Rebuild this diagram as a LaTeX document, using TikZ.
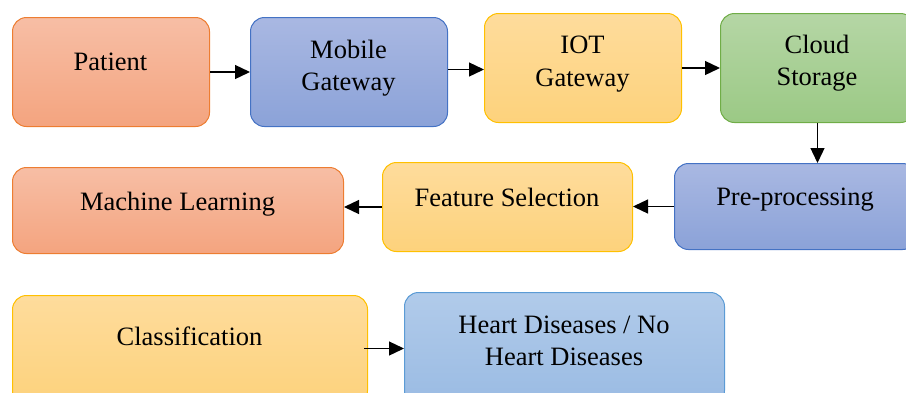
\documentclass[tikz,border=0pt]{standalone}
\usepackage{fontspec}
\setmainfont{Liberation Serif}
\usetikzlibrary{arrows.meta}

\definecolor{orTop}{HTML}{F7BEA5}\definecolor{orBot}{HTML}{F4A47F}\definecolor{orLine}{HTML}{ED7D31}
\definecolor{blTop}{HTML}{A9B8E2}\definecolor{blBot}{HTML}{8BA2D8}\definecolor{blLine}{HTML}{4472C4}
\definecolor{yeTop}{HTML}{FEDC9C}\definecolor{yeBot}{HTML}{FDD27C}\definecolor{yeLine}{HTML}{FFC000}
\definecolor{grTop}{HTML}{B5D6A5}\definecolor{grBot}{HTML}{9BC985}\definecolor{grLine}{HTML}{70AD47}
\definecolor{lbTop}{HTML}{B1CBEA}\definecolor{lbBot}{HTML}{9ABBE3}\definecolor{lbLine}{HTML}{5B9BD5}

\begin{document}
\begin{tikzpicture}[x=1pt,y=-1pt,
  box/.style={draw, line width=1pt, rounded corners=14pt, shading=axis,
    inner sep=0pt, anchor=north west},
  orangebox/.style={box, draw=orLine, top color=orTop, bottom color=orBot},
  bluebox/.style={box, draw=blLine, top color=blTop, bottom color=blBot},
  yellowbox/.style={box, draw=yeLine, top color=yeTop, bottom color=yeBot},
  greenbox/.style={box, draw=grLine, top color=grTop, bottom color=grBot},
  lightbox/.style={box, draw=lbLine, top color=lbTop, bottom color=lbBot},
  lbl/.style={font=\fontsize{26.5}{32}\selectfont, inner sep=0pt, anchor=base},
  arr/.style={line width=1.3pt, -{Triangle[length=15pt,width=14pt]}}]

\useasboundingbox (0,0) rectangle (906,392);
\clip (0,0) rectangle (906,392);

% first row
\node[orangebox, minimum width=197pt, minimum height=109pt] (patient) at (12,17) {};
\node[bluebox,   minimum width=197pt, minimum height=109pt] (mobile)  at (250,17) {};
\node[yellowbox, minimum width=197pt, minimum height=109pt] (iot)     at (484,13) {};
\node[greenbox,  minimum width=194pt, minimum height=109pt] (cloud)   at (720,13) {};

% second row
\node[orangebox, minimum width=331pt, minimum height=86pt] (ml)      at (12,167) {};
\node[yellowbox, minimum width=250pt, minimum height=89pt] (feature) at (382,162) {};
\node[bluebox,   minimum width=242pt, minimum height=86pt] (pre)     at (674,163) {};

% third row
\node[yellowbox, minimum width=355pt, minimum height=109pt] (class) at (12,295) {};
\node[lightbox,  minimum width=320pt, minimum height=112pt] (heart) at (404,292) {};

% labels
\node[lbl] (patientT) at (110.5,70) {Patient};
\node[lbl] (mobileA)  at (348.5,58) {Mobile};
\node[lbl] (mobileB)  at (348.5,90) {Gateway};
\node[lbl] (iotA)     at (582.5,53) {IOT};
\node[lbl] (iotB)     at (582.5,86) {Gateway};
\node[lbl] (cloudA)   at (817,53) {Cloud};
\node[lbl] (cloudB)   at (817,85) {Storage};
\node[lbl] (mlT)      at (177.5,210) {Machine Learning};
\node[lbl] (featureT) at (507,206) {Feature Selection};
\node[lbl] (preT)     at (795,205) {Pre-processing};
\node[lbl] (classT)   at (189.5,345) {Classification};
\node[lbl] (heartA)   at (564,333) {Heart Diseases / No};
\node[lbl] (heartB)   at (564,365) {Heart Diseases};

% connectors
\coordinate (mobileOut) at ([yshift=2.5pt]mobile.east);
\coordinate (classOut) at ([xshift=-4pt]class.east);
\draw[arr] (patient.east) -- (mobile.west |- patient.east);
\draw[arr] (mobileOut) -- (iot.west |- mobileOut);
\draw[arr] (iot.east) -- (cloud.west |- iot.east);
\draw[arr] (cloud.south) -- (cloud.south |- pre.north);
\draw[arr] (pre.west) -- (feature.east |- pre.west);
\draw[arr] (feature.west) -- (ml.east |- feature.west);
\draw[arr] (classOut |- heart.west) -- (heart.west);
\end{tikzpicture}
\end{document}
